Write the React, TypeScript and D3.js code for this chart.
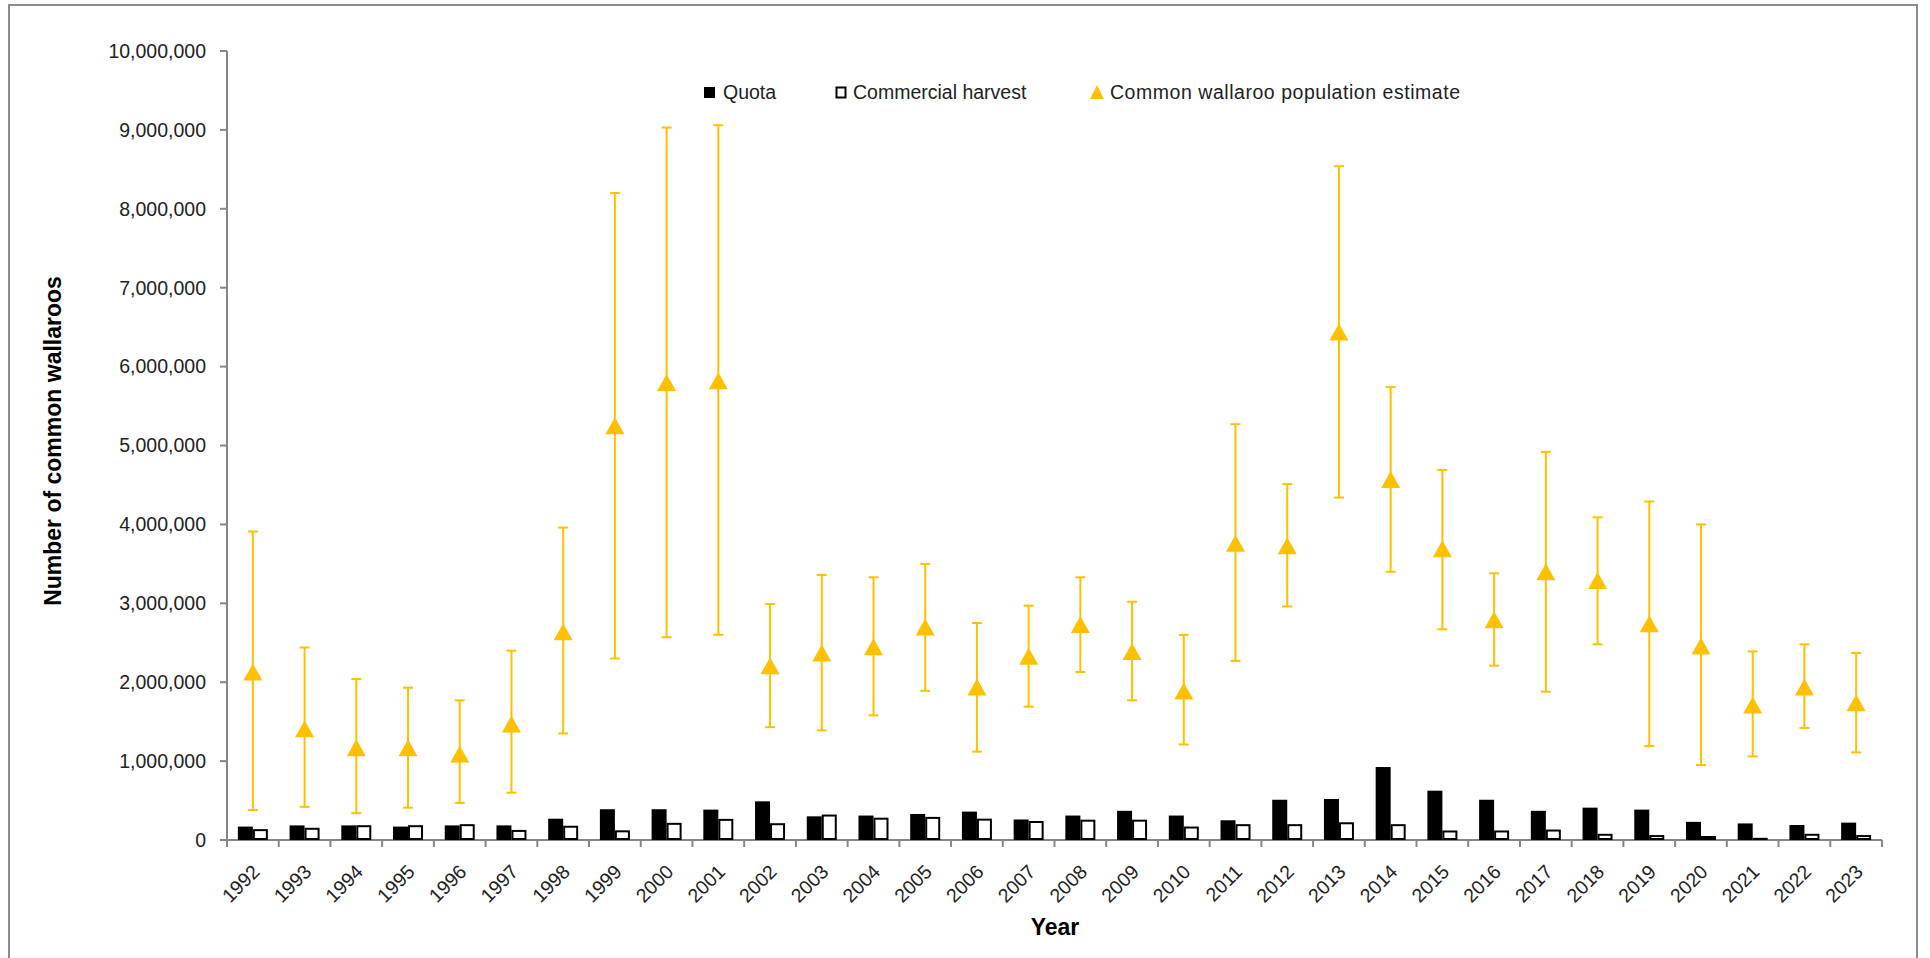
import React from "react";
import * as d3 from "d3";

const years = [
  "1992", "1993", "1994", "1995", "1996", "1997", "1998", "1999", "2000", "2001",
  "2002", "2003", "2004", "2005", "2006", "2007", "2008", "2009", "2010", "2011",
  "2012", "2013", "2014", "2015", "2016", "2017", "2018", "2019", "2020", "2021",
  "2022", "2023",
];

const quota = [
  170000, 185000, 185000, 170000, 185000, 185000, 270000, 390000, 390000, 385000,
  490000, 300000, 310000, 330000, 360000, 260000, 310000, 370000, 310000, 250000,
  510000, 520000, 925000, 625000, 510000, 370000, 410000, 385000, 230000, 210000,
  190000, 220000,
];

const harvest = [
  125000, 142000, 175000, 175000, 188000, 115000, 168000, 110000, 205000, 255000,
  200000, 310000, 270000, 280000, 258000, 228000, 245000, 245000, 158000, 188000,
  188000, 212000, 188000, 108000, 108000, 120000, 66000, 50000, 38000, 15000,
  66000, 50000,
];

const estimate = [
  2130000, 1410000, 1170000, 1170000, 1090000, 1470000, 2640000, 5250000, 5800000, 5820000,
  2210000, 2370000, 2450000, 2700000, 1940000, 2330000, 2730000, 2390000, 1890000, 3760000,
  3730000, 6440000, 4570000, 3690000, 2790000, 3400000, 3290000, 2740000, 2460000, 1710000,
  1940000, 1740000,
];

const estimateLow = [
  380000, 420000, 340000, 410000, 470000, 600000, 1350000, 2300000, 2570000, 2600000,
  1430000, 1390000, 1580000, 1890000, 1120000, 1690000, 2130000, 1770000, 1210000, 2270000,
  2960000, 4340000, 3400000, 2670000, 2210000, 1880000, 2480000, 1190000, 950000, 1060000,
  1420000, 1110000,
];

const estimateHigh = [
  3910000, 2440000, 2040000, 1930000, 1770000, 2400000, 3960000, 8200000, 9030000, 9060000,
  2990000, 3360000, 3330000, 3500000, 2750000, 2970000, 3330000, 3020000, 2600000, 5270000,
  4510000, 8540000, 5740000, 4690000, 3380000, 4920000, 4090000, 4290000, 4000000, 2390000,
  2480000, 2370000,
];

const yTicks = [0, 1000000, 2000000, 3000000, 4000000, 5000000, 6000000, 7000000, 8000000, 9000000, 10000000];

const seriesNames = ["Quota", "Commercial harvest", "Common wallaroo population estimate"];

const W = 1930;
const H = 958;
const plot = { left: 227, right: 1882, top: 51, bottom: 840 };
const gold = "#FFC000";
const axisGrey = "#868686";
const font = "'Liberation Sans', Arial, sans-serif";

export default function App() {
  const x = d3.scaleBand().domain(years).range([plot.left, plot.right]).padding(0);
  const y = d3.scaleLinear().domain([0, 10000000]).range([plot.bottom, plot.top]);
  const bw = x.bandwidth();
  const barW = bw * 0.29;
  const fmt = d3.format(",");

  const tri = (cx: number, cy: number) =>
    `M${cx},${cy - 8.5}L${cx + 9.5},${cy + 8.5}L${cx - 9.5},${cy + 8.5}Z`;

  const boundaries = d3.range(years.length + 1).map((i) => plot.left + i * bw);

  return (
    <svg
      width={W}
      height={H}
      style={{ position: "absolute", left: 0, top: 0, background: "#fff" }}
      fontFamily={font}
    >
      <rect x={9} y={5} width={1908} height={H + 20} fill="#fff" stroke="#8c8c8c" strokeWidth={2} />

      {/* y axis */}
      <line x1={plot.left} x2={plot.left} y1={y(10000000)} y2={plot.bottom} stroke={axisGrey} strokeWidth={2} />
      {yTicks.map((t) => (
        <g key={t}>
          <line x1={plot.left - 7} x2={plot.left} y1={y(t)} y2={y(t)} stroke={axisGrey} strokeWidth={2} />
          <text x={plot.left - 21} y={y(t)} dy="0.35em" textAnchor="end" fontSize={19.5} fill="#222">
            {fmt(t)}
          </text>
        </g>
      ))}

      {/* x axis */}
      <line x1={plot.left} x2={plot.right} y1={plot.bottom} y2={plot.bottom} stroke={axisGrey} strokeWidth={2} />
      {boundaries.map((bx, i) => (
        <line key={i} x1={bx} x2={bx} y1={plot.bottom} y2={plot.bottom + 7} stroke={axisGrey} strokeWidth={2} />
      ))}
      {years.map((yr) => {
        const cx = (x(yr) as number) + bw / 2;
        return (
          <text
            key={yr}
            transform={`translate(${cx + 8},${plot.bottom + 33}) rotate(-45)`}
            textAnchor="end"
            fontSize={19.5}
            fill="#222"
          >
            {yr}
          </text>
        );
      })}

      {/* bars */}
      {years.map((yr, i) => {
        const cx = (x(yr) as number) + bw / 2;
        return (
          <g key={yr}>
            <rect x={cx - barW} y={y(quota[i])} width={barW} height={plot.bottom - y(quota[i])} fill="#000" />
            <rect
              x={cx + 1}
              y={y(harvest[i])}
              width={barW - 2}
              height={Math.max(0, plot.bottom - y(harvest[i]) - 1)}
              fill="#fff"
              stroke="#000"
              strokeWidth={2}
            />
          </g>
        );
      })}

      {/* error bars */}
      {years.map((yr, i) => {
        const cx = (x(yr) as number) + bw / 2;
        return (
          <g key={yr} stroke={gold} strokeWidth={2}>
            <line x1={cx} x2={cx} y1={y(estimateHigh[i])} y2={y(estimateLow[i])} />
            <line x1={cx - 5} x2={cx + 5} y1={y(estimateHigh[i])} y2={y(estimateHigh[i])} />
            <line x1={cx - 5} x2={cx + 5} y1={y(estimateLow[i])} y2={y(estimateLow[i])} />
          </g>
        );
      })}

      {/* markers */}
      {years.map((yr, i) => {
        const cx = (x(yr) as number) + bw / 2;
        return <path key={yr} d={tri(cx, y(estimate[i]))} fill={gold} />;
      })}

      {/* legend */}
      <g fontSize={19.5} fill="#222">
        <rect x={704} y={87} width={11} height={11} fill="#000" />
        <text x={723} y={99}>{seriesNames[0]}</text>
        <rect x={836.5} y={87.5} width={9} height={10} fill="#fff" stroke="#000" strokeWidth={2} />
        <text x={853} y={99}>{seriesNames[1]}</text>
        <path d="M1097,85L1104,99L1090,99Z" fill={gold} />
        <text x={1110} y={99} textLength={350} lengthAdjust="spacing">{seriesNames[2]}</text>
      </g>

      {/* axis titles */}
      <text
        transform={`translate(61,441) rotate(-90)`}
        textAnchor="middle"
        fontSize={23}
        fontWeight="bold"
        fill="#000"
      >
        Number of common wallaroos
      </text>
      <text x={1055} y={935} textAnchor="middle" fontSize={23} fontWeight="bold" fill="#000">
        Year
      </text>
    </svg>
  );
}
